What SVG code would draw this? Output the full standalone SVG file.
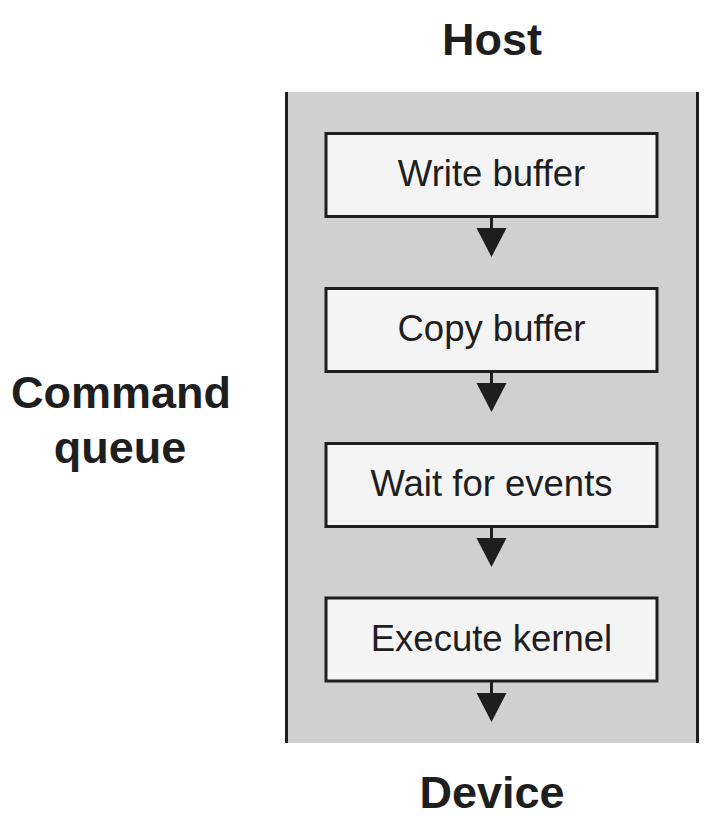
<svg xmlns="http://www.w3.org/2000/svg" width="717" height="819" viewBox="0 0 717 819">
<style>
.lbl{font-family:"Liberation Sans",Arial,sans-serif;font-weight:bold;font-size:45px;fill:#1e1e1e;text-anchor:middle}
.box{fill:#f4f4f4;stroke:#1e1e1e;stroke-width:3}
.btx{font-family:"Liberation Sans",Arial,sans-serif;font-size:36.5px;fill:#1e1e1e;text-anchor:middle}
.stem{stroke:#1e1e1e;stroke-width:3}
.head{fill:#1e1e1e}
</style>
<g id="queue">
<rect x="286" y="92" width="412" height="651" fill="#d0d0d0"/>
<line x1="286.5" y1="92" x2="286.5" y2="743" stroke="#1e1e1e" stroke-width="3"/>
<line x1="697.5" y1="92" x2="697.5" y2="743" stroke="#1e1e1e" stroke-width="3"/>
</g>
<g id="labels">
<text class="lbl" x="492" y="55">Host</text>
<text class="lbl" x="492" y="808">Device</text>
<text class="lbl" x="121" y="408">Command</text>
<text class="lbl" x="120" y="463">queue</text>
</g>
<g id="connectors">
<g><line class="stem" x1="491.5" y1="216" x2="491.5" y2="229"/><path class="head" d="M476.5,228 L506.5,228 L491.5,257 Z"/></g>
<g><line class="stem" x1="491.5" y1="371" x2="491.5" y2="384"/><path class="head" d="M476.5,383 L506.5,383 L491.5,412 Z"/></g>
<g><line class="stem" x1="491.5" y1="526" x2="491.5" y2="539"/><path class="head" d="M476.5,538 L506.5,538 L491.5,567 Z"/></g>
<g><line class="stem" x1="491.5" y1="681" x2="491.5" y2="694"/><path class="head" d="M476.5,693 L506.5,693 L491.5,722 Z"/></g>
</g>
<g id="write-buffer"><rect class="box" x="326" y="133.5" width="331" height="83"/><text class="btx" x="491.5" y="186">Write buffer</text></g>
<g id="copy-buffer"><rect class="box" x="326" y="288.5" width="331" height="83"/><text class="btx" x="491.5" y="341">Copy buffer</text></g>
<g id="wait-for-events"><rect class="box" x="326" y="443.5" width="331" height="83"/><text class="btx" x="491.5" y="496">Wait for events</text></g>
<g id="execute-kernel"><rect class="box" x="326" y="598" width="331" height="83"/><text class="btx" x="491.5" y="651">Execute kernel</text></g>
</svg>
